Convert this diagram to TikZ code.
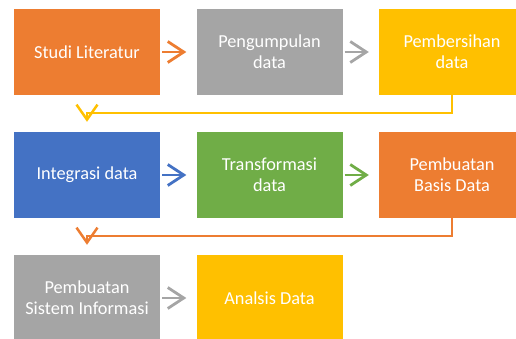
\documentclass[tikz,border=0pt]{standalone}
\usepackage{fontspec}
\setmainfont{Carlito}
\usetikzlibrary{arrows.meta,calc}
\definecolor{cOrange}{HTML}{ED7D31}
\definecolor{cGray}{HTML}{A5A5A5}
\definecolor{cGold}{HTML}{FFC000}
\definecolor{cBlue}{HTML}{4472C4}
\definecolor{cGreen}{HTML}{70AD47}
\tikzset{
  stepbox/.style={rectangle, minimum width=146pt, minimum height=86pt, inner sep=0pt,
    text=white, align=center, font=\fontsize{18.3}{21}\selectfont},
  arr/.style={line width=2.8pt, -{Straight Barb[length=16pt,width=21pt,line width=2.8pt]}},
  conn/.style={line width=2.5pt, -{Straight Barb[length=15pt,width=21pt,line width=2.5pt]}}
}
\begin{document}
\begin{tikzpicture}[x=1pt,y=-1pt]
\useasboundingbox (0,0) rectangle (516,339);
\clip (0,0) rectangle (516,339);
% row 1
\node[stepbox, fill=cOrange] (s1) at (87,52) {Studi Literatur};
\node[stepbox, fill=cGray] (s2) at (269.5,52) {Pengumpulan\\data};
\node[stepbox, fill=cGold] (s3) at (452,52) {Pembersihan\\data};
% row 2
\node[stepbox, fill=cBlue] (s4) at (87,175) {Integrasi data};
\node[stepbox, fill=cGreen] (s5) at (269.5,175) {Transformasi\\data};
\node[stepbox, fill=cOrange] (s6) at (452,175) {Pembuatan\\Basis Data};
% row 3
\node[stepbox, fill=cGray] (s7) at (87,298) {Pembuatan\\Sistem Informasi};
\node[stepbox, fill=cGold] (s8) at (269.5,298) {Analsis Data};
% arrows
\draw[arr, cOrange] ([xshift=2pt]s1.east) -- ([xshift=-10pt]s2.west);
\draw[arr, cGray] ([xshift=2pt]s2.east) -- ([xshift=-10pt]s3.west);
\draw[arr, cBlue] ([xshift=2pt]s4.east) -- ([xshift=-10pt]s5.west);
\draw[arr, cGreen] ([xshift=2pt]s5.east) -- ([xshift=-10pt]s6.west);
\draw[arr, cGray] ([xshift=2pt]s7.east) -- ([xshift=-10pt]s8.west);
% row connectors
\draw[conn, cGold] (s3.south) -- ++(0,18) -| ([yshift=10pt]s4.north);
\draw[conn, cOrange] (s6.south) -- ++(0,18) -| ([yshift=10pt]s7.north);
\end{tikzpicture}
\end{document}
